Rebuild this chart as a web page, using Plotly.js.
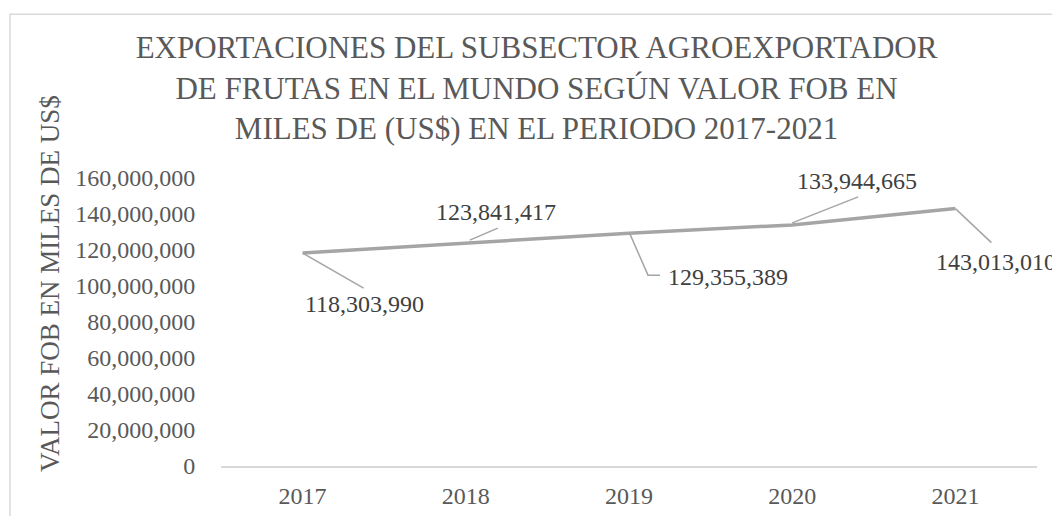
<!DOCTYPE html>
<html>
<head>
<meta charset="utf-8">
<script src="https://cdn.plot.ly/plotly-3.0.1.min.js"></script>
<style>
html,body{margin:0;padding:0;background:#fff;overflow:hidden;}
#chart{width:1052px;height:516px;}
</style>
</head>
<body>
<div id="chart"></div>
<script>
// Data
const years = ['2017', '2018', '2019', '2020', '2021'];
const values = [118303990, 123841417, 129355389, 133944665, 143013010];
const yTickVals = [0, 20000000, 40000000, 60000000, 80000000, 100000000, 120000000, 140000000, 160000000];

const titleText = 'EXPORTACIONES DEL SUBSECTOR AGROEXPORTADOR<br>DE FRUTAS EN EL MUNDO SEGÚN VALOR FOB EN<br>MILES DE (US$) EN EL PERIODO 2017-2021';
const yTitleText = 'VALOR FOB EN MILES DE US$';

// label offsets (pixels, screen: +x right, +y down)
const labelOffsets = [[62, 51], [30, -31], [99, 44], [65, -44], [41, 53]];
// leader line paths (pixel offsets from point, screen y down)
const leaders = [
  [[0, 0], [61, 35]],
  [[4, -3], [32, -15]],
  [[1, 1], [19, 42], [31, 42]],
  [[0, -2], [66, -28]],
  [[0, 0], [36, 34]]
];

const textColor = '#595959';
const fontFam = 'Liberation Serif, Times New Roman, serif';

function fmt(v) { return v.toLocaleString('en-US'); }

const annotations = values.map((v, i) => ({
  x: i, y: v, xref: 'x', yref: 'y',
  text: fmt(v), showarrow: false,
  xshift: labelOffsets[i][0], yshift: -labelOffsets[i][1],
  font: {family: fontFam, size: 24, color: '#404040'}
}));
annotations.push({
  xref: 'paper', yref: 'paper', x: -0.2096, y: 0.635,
  xanchor: 'center', yanchor: 'middle',
  text: yTitleText, textangle: -90, showarrow: false,
  font: {family: fontFam, size: 27, color: textColor}
});

const shapes = leaders.map((pts, i) => ({
  type: 'path', xref: 'x', yref: 'y',
  xsizemode: 'pixel', ysizemode: 'pixel',
  xanchor: i, yanchor: values[i],
  path: pts.map((p, k) => (k === 0 ? 'M' : 'L') + p[0] + ',' + (-p[1])).join(' '),
  line: {color: '#A5A5A5', width: 1.5}
}));
shapes.push({
  type: 'rect', xref: 'paper', yref: 'paper',
  x0: -0.2586, x1: 1.2, y0: -0.3, y1: 1.569,
  line: {color: '#D9D9D9', width: 1.5}, fillcolor: 'rgba(0,0,0,0)', layer: 'below'
});

const trace = {
  x: years.map((y, i) => i), y: values,
  type: 'scatter', mode: 'lines',
  line: {color: '#A5A5A5', width: 3.5},
  hoverinfo: 'skip', cliponaxis: false
};

const layout = {
  width: 1052, height: 516,
  margin: {l: 221, r: 15, t: 178, b: 50},
  paper_bgcolor: '#fff', plot_bgcolor: '#fff',
  showlegend: false,
  title: {
    text: titleText, xref: 'container', yref: 'container',
    x: 0.51, xanchor: 'center', y: 0.887, yanchor: 'top',
    font: {family: fontFam, size: 31, color: textColor}
  },
  xaxis: {
    range: [-0.5, 4.5], tickvals: years.map((y, i) => i), ticktext: years,
    showgrid: false, zeroline: false, showline: true, linecolor: '#D9D9D9', linewidth: 1.5,
    ticks: 'outside', ticklen: 8, tickcolor: 'rgba(0,0,0,0)',
    tickfont: {family: fontFam, size: 24, color: textColor}
  },
  yaxis: {
    range: [0, 160000000], tickvals: yTickVals, ticktext: yTickVals.map(fmt),
    showgrid: false, zeroline: false, showline: false,
    ticks: 'outside', ticklen: 20, tickcolor: 'rgba(0,0,0,0)',
    tickfont: {family: fontFam, size: 24, color: textColor}
  },
  annotations: annotations,
  shapes: shapes
};

Plotly.newPlot('chart', [trace], layout, {displayModeBar: false, staticPlot: true});
</script>
</body>
</html>
